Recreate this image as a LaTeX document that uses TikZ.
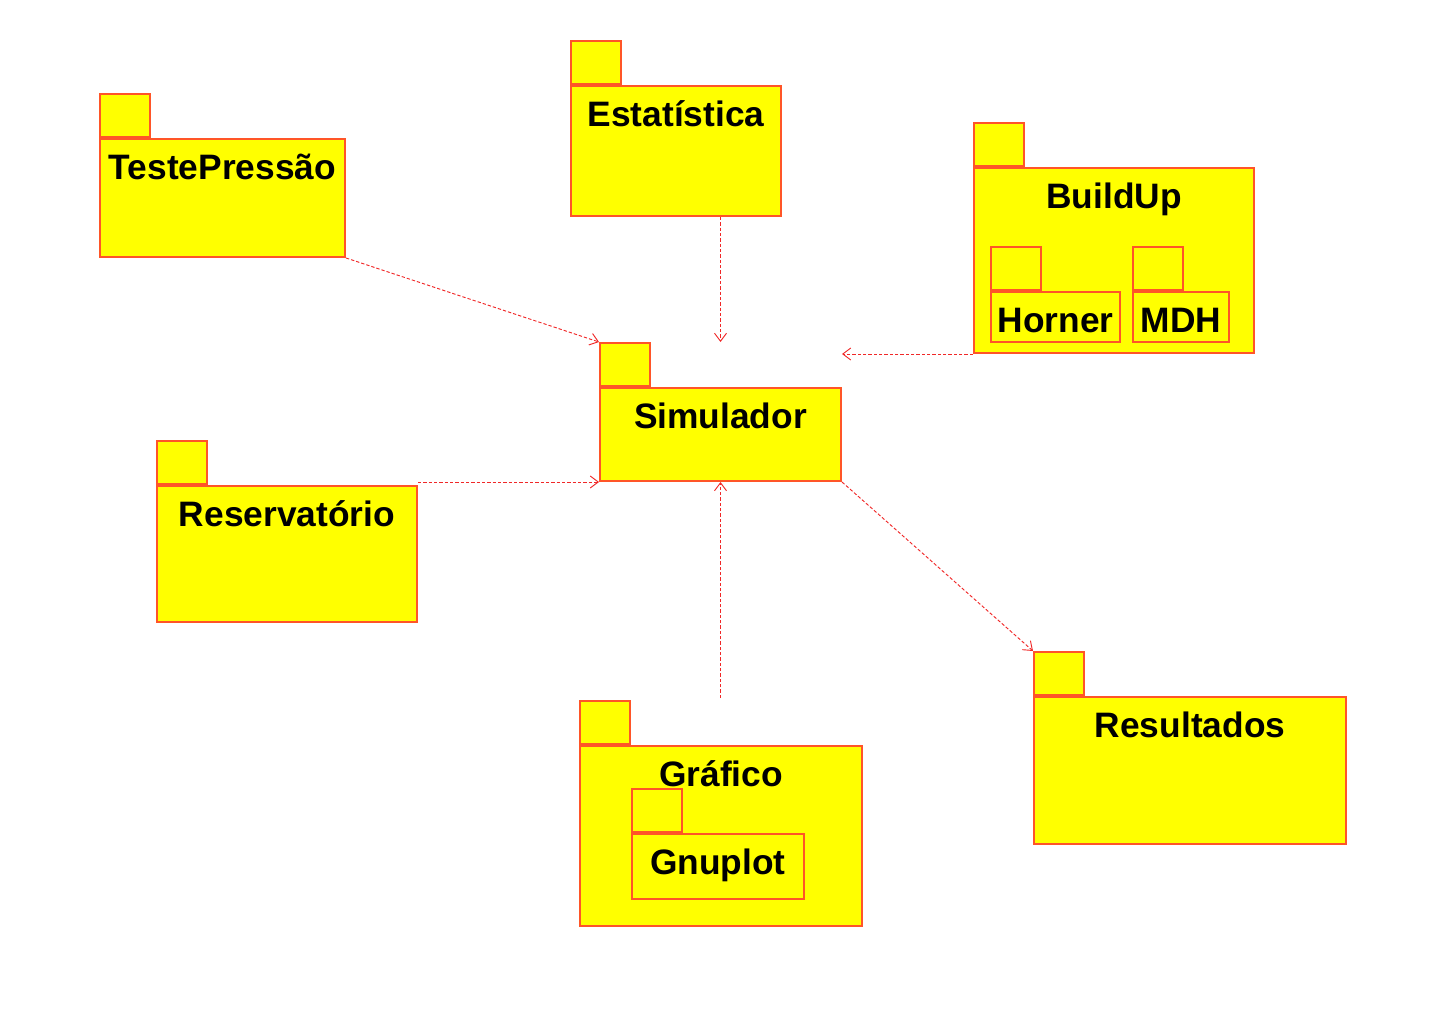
\documentclass[tikz,border=0pt]{standalone}
\usepackage{fontspec}
\setmainfont{Liberation Sans}
\usepackage{tikz}
\usetikzlibrary{arrows.meta}
\definecolor{pkgline}{RGB}{255,85,40}
\definecolor{pkgfill}{RGB}{255,255,0}
\definecolor{deparrow}{RGB}{240,40,40}

\begin{document}
\begin{tikzpicture} [
				x=0.75pt, y=-0.75pt,
				pkgbody/.style 2 args={draw=pkgline, fill=pkgfill, line width=1.5pt, anchor=north west, inner sep=0pt, minimum width=#1*0.75pt, minimum height=#2*0.75pt},
				pkgtab/.style={draw=pkgline, fill=pkgfill, line width=1.5pt, anchor=south west, inner sep=0pt, minimum width=37.5pt, minimum height=32.25pt},
				pkglabel/.style={anchor=base, inner sep=0pt, font=\fontsize{26.5}{30}\selectfont\bfseries, yshift=-31pt},
				dep/.style={draw=deparrow, line width=0.7pt, dash pattern=on 2.5pt off 1.5pt, -{Straight Barb[length=6pt,width=9pt]}}
			]
			\useasboundingbox (0,0) rectangle (1442,1013);

			\node[pkgbody={245}{118}] (teste) at (99,138) {};
			\node[pkgtab] (testetab) at (teste.north west) {};
			\node[pkglabel] (testelbl) at (teste.north) {TestePressão};

			\node[pkgbody={210}{130}] (estat) at (570,85) {};
			\node[pkgtab] (estattab) at (estat.north west) {};
			\node[pkglabel] (estatlbl) at (estat.north) {Estatística};

			\node[pkgbody={280}{185}] (buildup) at (973,167) {};
			\node[pkgtab] (builduptab) at (buildup.north west) {};
			\node[pkglabel] (builduplbl) at (buildup.north) {BuildUp};
			\node[pkgbody={129}{50}] (horner) at (990,291) {};
			\node[pkgtab] (hornertab) at (horner.north west) {};
			\node[pkglabel] (hornerlbl) at (horner.north) {Horner};
			\node[pkgbody={96}{50}] (mdh) at (1132,291) {};
			\node[pkgtab] (mdhtab) at (mdh.north west) {};
			\node[pkglabel] (mdhlbl) at (mdh.north) {MDH};

			\node[pkgbody={241}{93}] (sim) at (599,387) {};
			\node[pkgtab] (simtab) at (sim.north west) {};
			\node[pkglabel] (simlbl) at (sim.north) {Simulador};

			\node[pkgbody={260}{136}] (reserv) at (156,485) {};
			\node[pkgtab] (reservtab) at (reserv.north west) {};
			\node[pkglabel] (reservlbl) at (reserv.north) {Reservatório};

			\node[pkgbody={282}{180}] (grafico) at (579,745) {};
			\node[pkgtab] (graficotab) at (grafico.north west) {};
			\node[pkglabel] (graficolbl) at (grafico.north) {Gráfico};
			\node[pkgbody={172}{65}] (gnuplot) at (631,833) {};
			\node[pkgtab] (gnuplottab) at (gnuplot.north west) {};
			\node[pkglabel] (gnuplotlbl) at (gnuplot.north) {Gnuplot};

			\node[pkgbody={312}{147}] (result) at (1033,696) {};
			\node[pkgtab] (resulttab) at (result.north west) {};
			\node[pkglabel] (resultlbl) at (result.north) {Resultados};

			\draw[dep] (teste.south east) -- (simtab.north west);
			\draw[dep] (sim.north |- estat.south) -- (sim.north |- simtab.north);
			\draw[dep] (buildup.south west) -- (sim.east |- buildup.south);
			\draw[dep] (reserv.north east |- sim.south) -- (sim.south west);
			\draw[dep] ([yshift=1.5pt]sim.south |- graficotab.north) -- (sim.south);
			\draw[dep] (sim.south east) -- (resulttab.north west);
		\end{tikzpicture}
\end{document}
